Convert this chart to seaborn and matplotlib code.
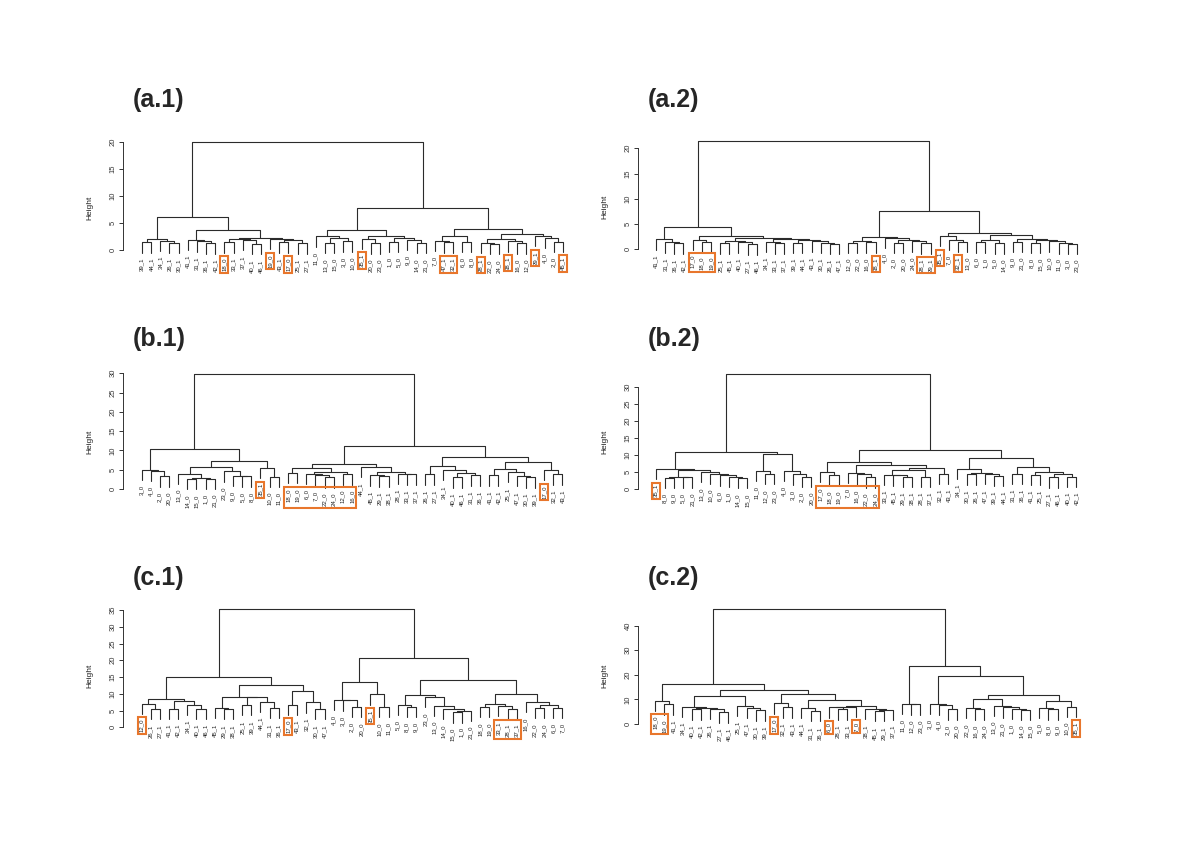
import numpy as np
import pandas as pd
import matplotlib
matplotlib.use("Agg")
import matplotlib.pyplot as plt
from matplotlib.patches import Rectangle
import seaborn as sns

sns.set_theme(style="white")
plt.rcParams['font.family'] = ['Liberation Sans', 'DejaVu Sans']

# trees: (merge height, left, right), leaves are labels
tree_a1 = (20.0,
           (6.0,
            (2.0, (1.4, "39_1", "44_1"), (1.7, "34_1", (1.3, "26_1", "30_1"))),
            (3.7,
             (1.9, "41_1", (1.6, "31_1", (1.2, "36_1", "42_1"))),
             (2.3,
              (2.1, (1.4, "18_0", "33_1"), (1.8, "37_1", (1.1, "40_1", "46_1"))),
              (2.0, "19_0", (1.8, (1.4, "43_1", "17_0"), (1.2, "25_1", "27_1")))))),
           (7.8,
            (3.6,
             (2.5, "11_0", (2.3, (1.3, "13_0", "15_0"), (1.6, "3_0", "10_0"))),
             (2.5, (2.1, "35_1", (1.2, "20_0", "23_0")),
              (2.2, (1.5, "1_0", "5_0"), (1.8, "9_0", (1.3, "14_0", "21_0"))))),
            (3.8,
             (2.6, (1.7, "7_0", (1.4, "47_1", "32_1")), (1.5, "6_0", "8_0")),
             (3.0,
              (2.0, (1.3, "28_1", (1.1, "22_0", "24_0")), (1.6, "38_1", (1.2, "16_0", "12_0"))),
              (2.6, "29_1", (2.2, "4_0", (1.5, "2_0", "45_1")))))))

tree_a2 = (21.4,
           (4.5,
            (2.0, "41_1", (1.35, "31_1", (1.2, "36_1", "42_1"))),
            (2.7,
             (1.9, "17_0", (1.5, "18_0", "19_0")),
             (2.3,
              (1.6, (1.2, "25_1", "45_1"), (1.4, "40_1", (1.0, "27_1", "46_1"))),
              (2.0, (1.5, "34_1", (1.2, "33_1", "37_1")),
               (1.8, (1.3, "39_1", "44_1"), (1.6, "43_1", (1.3, "30_1", (1.1, "26_1", "47_1")))))))),
           (7.6,
            (2.5,
             (1.7, (1.3, "12_0", "22_0"), (1.4, "16_0", "38_1")),
             (2.3, "4_0", (1.8, (1.3, "2_0", "20_0"), (1.6, "24_0", (1.2, "28_1", "29_1"))))),
            (3.2,
             (2.6, "35_1", (1.9, "7_0", (1.5, "32_1", "13_0"))),
             (2.8,
              (1.8, (1.4, "6_0", "1_0"), (1.2, "5_0", "14_0")),
              (2.0, (1.5, "9_0", "21_0"),
               (1.8, (1.3, "8_0", "15_0"), (1.6, "10_0", (1.2, "11_0", (1.1, "3_0", "23_0")))))))))

tree_b1 = (29.7,
           (10.3,
            (5.0, "3_0", (4.7, "4_0", (3.3, "2_0", "20_0"))),
            (7.3,
             (5.6,
              (4.0, "13_0", (2.9, (2.6, "14_0", "15_0"), (2.7, "1_0", "21_0"))),
              (4.6, "23_0", (3.4, "9_0", (3.3, "5_0", "8_0")))),
             (5.5, "35_1", (3.2, "10_0", "11_0")))),
           (11.2,
            (6.4,
             (5.5, (4.2, "18_0", "19_0"),
              (4.3, (3.9, "6_0", (3.6, "7_0", (3.0, "22_0", "24_0"))), (3.8, "12_0", "16_0"))),
             (5.7, "44_1",
              (4.5, (3.5, "45_1", (3.3, "29_1", "38_1")), (4.0, "28_1", (3.8, "33_1", "37_1"))))),
            (8.4,
             (6.0, (3.8, "26_1", "27_1"),
              (5.0, "34_1", (4.2, (3.0, "40_1", "46_1"), (3.5, "31_1", "36_1")))),
             (7.0,
              (5.2, (3.6, "41_1", "42_1"), (4.4, "25_1", (3.4, "47_1", (3.0, "30_1", "39_1")))),
              (5.0, "17_0", (3.8, "32_1", "43_1"))))))

tree_b2 = (33.6,
           (10.8,
            (5.9, "35_1",
             (5.5, (3.6, (3.2, "8_0", "9_0"), (3.4, "5_0", "21_0")),
              (5.0, "13_0", (4.5, "10_0", (4.0, "6_0", (3.6, "1_0", (3.2, "14_0", "15_0"))))))),
            (10.2, (5.3, "11_0", (4.4, "12_0", "23_0")),
             (5.3, "4_0", (4.3, "3_0", (3.6, "2_0", "20_0"))))),
           (11.4,
            (7.8,
             (5.0, "17_0", (4.0, "18_0", "19_0")),
             (6.9, (4.8, "7_0", (4.3, "16_0", (3.4, "22_0", "24_0"))),
              (6.1,
               (5.5, (4.2, "33_1", (4.0, "45_1", (3.6, "29_1", "38_1"))), (3.6, "28_1", "37_1")),
               (4.5, "32_1", "43_1")))),
            (9.0,
             (6.0, "34_1", (4.8, (4.3, "30_1", "26_1"), (4.4, "47_1", (3.9, "39_1", "44_1")))),
             (6.5, (4.5, "31_1", "36_1"),
              (5.0, (4.2, "41_1", "25_1"), (4.5, (3.4, "27_1", "46_1"), (3.6, "40_1", "42_1")))))))

tree_c1 = (35.2,
           (14.9,
            (8.5, (7.0, "12_0", (5.4, "26_1", "27_1")),
             (7.7, (5.6, "41_1", "42_1"), (6.8, "34_1", (5.6, "40_1", "46_1")))),
            (12.6,
             (9.1, (5.7, "45_1", (5.4, "29_1", "38_1")),
              (9.0, (6.6, "25_1", "39_1"), (7.6, "44_1", (5.7, "31_1", "36_1")))),
             (10.9, (6.7, "17_0", "43_1"), (7.4, "32_1", (5.4, "30_1", "47_1"))))),
           (20.8,
            (13.6, (8.2, "4_0", (8.0, "3_0", (6.1, "2_0", "20_0"))),
             (9.8, "35_1", (6.1, "10_0", "11_0"))),
            (14.0,
             (9.5, (6.7, "5_0", (6.2, "8_0", "9_0")),
              (9.0, "23_0", (6.5, "13_0", (5.5, "14_0", (5.0, (4.5, "15_0", "1_0"), "21_0"))))),
             (10.0, (7.0, (6.0, "18_0", "19_0"), (6.3, "33_1", (5.6, "28_1", "37_1"))),
              (7.5, "16_0", (6.8, (5.8, "22_0", "24_0"), (5.9, "6_0", "7_0")))))))

tree_c2 = (46.6,
           (16.1,
            (9.5, "18_0", (8.0, "19_0", "41_1")),
            (13.8,
             (11.5,
              (7.1, "34_1", (6.5, (5.9, "40_1", "42_1"), (6.2, "26_1", (4.7, "27_1", "46_1")))),
              (7.5, "25_1", (6.6, "47_1", (5.5, "30_1", "39_1")))),
             (12.1,
              (8.4, "17_0", (6.8, "32_1", "43_1")),
              (9.8, (6.7, "44_1", (5.3, "31_1", "36_1")),
               (7.5, (7.1, (6.8, "6_0", (6.0, "28_1", "33_1")), "7_0"),
                (6.1, "38_1", (5.8, (5.3, "45_1", "29_1"), "37_1"))))))),
           (23.7,
            (8.3, "11_0", (8.0, "12_0", "23_0")),
            (19.7, (8.2, "3_0", (7.9, "4_0", (6.0, "2_0", "20_0"))),
             (12.0,
              (10.0, (6.5, "22_0", (6.0, "16_0", "24_0")),
               (7.5, "13_0", (6.8, "21_0", (6.2, "1_0", (5.8, "14_0", "15_0"))))),
              (9.5, (6.5, "5_0", (6.0, "8_0", "9_0")), (7.0, "10_0", "35_1"))))))

# highlighted label groups (orange boxes)
boxes_a1 = [["18_0"], ["19_0"], ["17_0"], ["35_1"], ["47_1", "32_1"], ["28_1"], ["38_1"], ["29_1"], ["45_1"]]
boxes_a2 = [["17_0", "18_0", "19_0"], ["38_1"], ["28_1", "29_1"], ["35_1"], ["32_1"]]
boxes_b1 = [["35_1"], ["18_0", "19_0", "6_0", "7_0", "22_0", "24_0", "12_0", "16_0"], ["17_0"]]
boxes_b2 = [["35_1"], ["17_0", "18_0", "19_0", "7_0", "16_0", "22_0", "24_0"]]
boxes_c1 = [["12_0"], ["17_0"], ["35_1"], ["33_1", "28_1", "37_1"]]
boxes_c2 = [["18_0", "19_0"], ["17_0"], ["6_0"], ["7_0"], ["35_1"]]

titles = ["(a.1)", "(a.2)", "(b.1)", "(b.2)", "(c.1)", "(c.2)"]
trees = [tree_a1, tree_a2, tree_b1, tree_b2, tree_c1, tree_c2]
boxes = [boxes_a1, boxes_a2, boxes_b1, boxes_b2, boxes_c1, boxes_c2]

# panel geometry in pixels: axis x, leaf-1 offset, y of zero, px per unit, top tick, tick step
geom = [
    dict(x0=123, lead=19.0, zero=250.0, k=5.42, tmax=20, step=5, ylab=208),
    dict(x0=638, lead=18.0, zero=249.3, k=5.05, tmax=20, step=5, ylab=207),
    dict(x0=123, lead=18.5, zero=489.0, k=3.86, tmax=30, step=5, ylab=442),
    dict(x0=638, lead=17.5, zero=489.0, k=3.41, tmax=30, step=5, ylab=442),
    dict(x0=123, lead=18.5, zero=727.3, k=3.352, tmax=35, step=5, ylab=676),
    dict(x0=638, lead=17.0, zero=724.0, k=2.458, tmax=40, step=10, ylab=676),
]
title_y = [107, 107, 346, 346, 585, 585]
SP = 9.15      # leaf spacing in px
AXW = 460      # axes width in px
W, H = 1200, 848
ORANGE = "#E8762C"


def walk(node, hang, segs, leaves, tips):
    if isinstance(node, str):
        leaves.append(node)
        return float(len(leaves)), None
    h, left, right = node
    out = []
    for child in (left, right):
        x, ch = walk(child, hang, segs, leaves, tips)
        if ch is None:
            ch = h - hang
            tips[child] = (x, ch)
        out.append((x, ch))
    (xl, yl), (xr, yr) = out
    k = len(segs) // 4
    segs += [(k, xl, yl), (k, xl, h), (k, xr, h), (k, xr, yr)]
    return (xl + xr) / 2, h


def merge_heights(node):
    if isinstance(node, str):
        return []
    return [node[0]] + merge_heights(node[1]) + merge_heights(node[2])


fig = plt.figure(figsize=(W / 100, H / 100), dpi=100)
label_map = []

for tree, g, title, ty, bx in zip(trees, geom, titles, title_y, boxes):
    hs = merge_heights(tree)
    hang = 0.1 * (max(hs) - min(hs))
    segs, leaves, tips = [], [], {}
    walk(tree, hang, segs, leaves, tips)
    df = pd.DataFrame(segs, columns=["seg", "x", "y"])

    top = g["zero"] - tree[0] * g["k"] - 4
    bottom = 2 * g["ylab"] - top
    ax = fig.add_axes([g["x0"] / W, 1 - bottom / H, AXW / W, (bottom - top) / H])
    sns.lineplot(data=df, x="x", y="y", units="seg", estimator=None, sort=False,
                 color="#2b2b2b", linewidth=0.8, ax=ax, legend=False)
    x_lo = 1 - g["lead"] / SP
    ax.set_xlim(x_lo, x_lo + AXW / SP)
    ax.set_ylim(-(bottom - g["zero"]) / g["k"], (g["zero"] - top) / g["k"])

    texts = {}
    for lab in leaves:
        x, y = tips[lab]
        t = ax.annotate(lab, (x, y), xytext=(0, -3.5), textcoords="offset points",
                        rotation=90, ha="center", va="top", fontsize=4.3,
                        color="#222222", annotation_clip=False)
        texts[lab] = t
    label_map.append((texts, bx))

    for s in ["top", "right", "bottom"]:
        ax.spines[s].set_visible(False)
    ax.spines["left"].set_bounds(0, g["tmax"])
    ax.spines["left"].set_color("#333333")
    ax.spines["left"].set_linewidth(0.7)
    ax.set_xticks([])
    ax.set_yticks(np.arange(0, g["tmax"] + 1, g["step"]))
    ax.tick_params(axis="y", left=True, direction="out", length=3, width=0.7,
                   labelsize=5.5, pad=1.5, colors="#333333")
    for lbl in ax.get_yticklabels():
        lbl.set_rotation(90)
        lbl.set_va("center")
    ax.set_xlabel("")
    ax.set_ylabel("Height", fontsize=6, color="#222222")
    ax.yaxis.set_label_coords(-30 / AXW, 0.5)
    ax.patch.set_visible(False)

    fig.text((g["x0"] + 10) / W, 1 - ty / H, title, fontsize=18, fontweight="bold",
             ha="left", va="baseline")

# orange boxes around highlighted labels
fig.canvas.draw()
rend = fig.canvas.get_renderer()
for texts, bx in label_map:
    for group in bx:
        ext = [texts[l].get_window_extent(rend) for l in group if l in texts]
        if not ext:
            continue
        x0 = min(e.x0 for e in ext) - 1.5
        x1 = max(e.x1 for e in ext) + 1.5
        y0 = min(e.y0 for e in ext) - 1.5
        y1 = max(e.y1 for e in ext) + 1.5
        fig.add_artist(Rectangle((x0 / W, y0 / H), (x1 - x0) / W, (y1 - y0) / H,
                                 transform=fig.transFigure, fill=False,
                                 edgecolor=ORANGE, linewidth=1.5))

fig.savefig("out.png", dpi=100, facecolor="white")
